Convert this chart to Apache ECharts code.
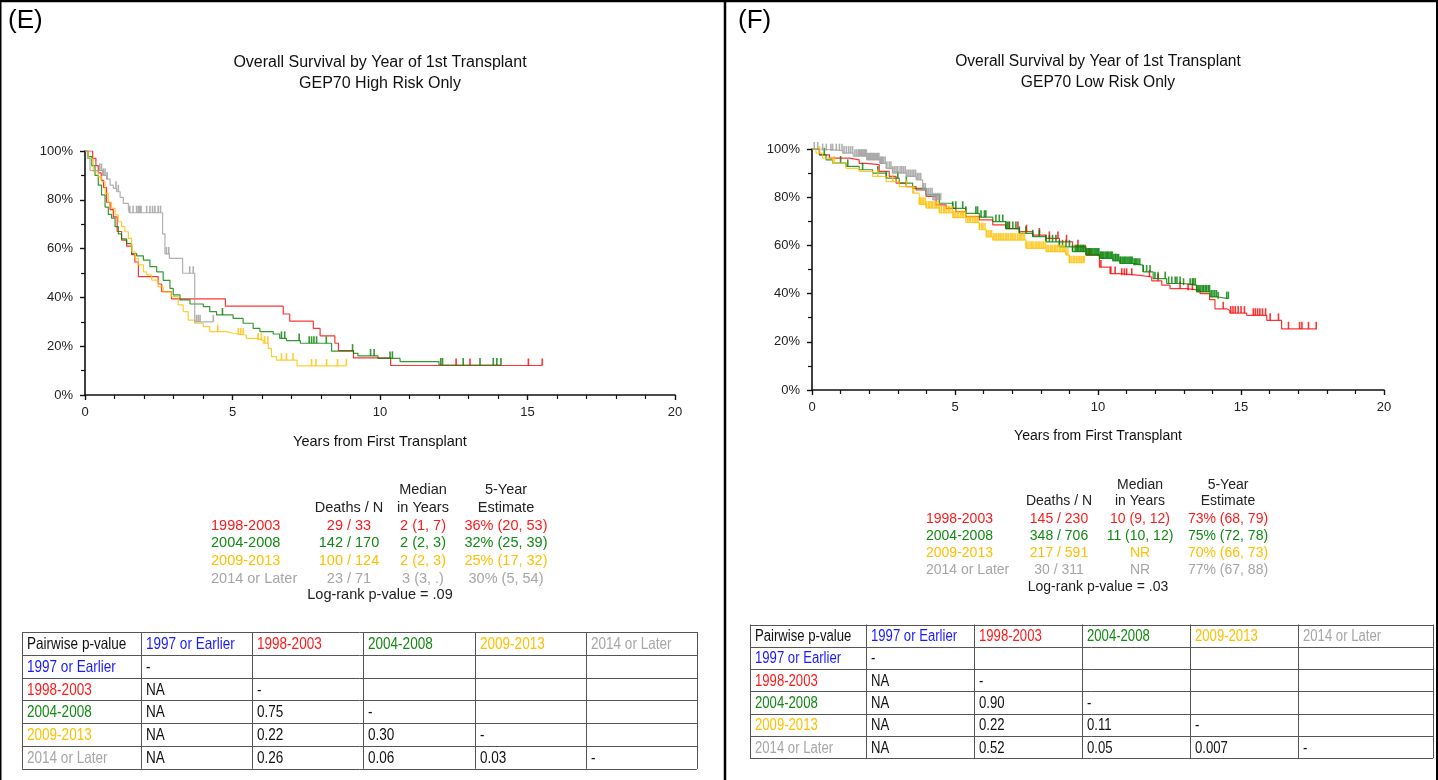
<!DOCTYPE html>
<html>
<head>
<meta charset="utf-8">
<title>Overall Survival by Year of 1st Transplant</title>
<script src="https://cdn.jsdelivr.net/npm/echarts@6.0.0/dist/echarts.min.js"></script>
<style>
  html, body { margin: 0; padding: 0; background: #fff; }
  #chart { width: 1438px; height: 780px; }
</style>
</head>
<body>
<div id="chart"></div>
<script>
// ---- data ----
var groups = ['1998-2003', '2004-2008', '2009-2013', '2014 or Later'];
var pairCols = ['1997 or Earlier', '1998-2003', '2004-2008', '2009-2013', '2014 or Later'];

// (E) GEP70 high risk: [years, survival %]
var kmE1998 = [[0,100],[0.26,97],[0.37,94],[0.45,91],[0.55,88],[0.63,85],[0.73,79],[0.85,76],[0.96,73],[1.09,67],[1.24,63.5],[1.41,61],[1.58,57.5],[1.69,54.5],[1.81,48.5],[2.48,45.5],[2.6,42.4],[2.93,39.4],[4.76,36.4],[6.72,33.2],[6.94,30.3],[7.74,27.3],[7.97,24.2],[8.47,21.2],[8.59,18.2],[9.1,15.2],[10.36,12.1],[15.5,12.1]];
var kmE2004 = [[0,100],[0.11,97.7],[0.23,94],[0.34,90],[0.45,86],[0.56,82],[0.68,77],[0.79,74],[0.9,72.5],[1.02,69],[1.13,66],[1.24,64],[1.41,62],[1.58,58],[1.75,57],[1.98,55.3],[2.2,52.6],[2.43,50.5],[2.65,47],[2.88,43.7],[2.99,41],[3.22,39],[3.56,37.3],[4.01,36.2],[4.23,34.2],[4.46,32.8],[5.02,31.4],[5.36,29.4],[5.7,27.3],[5.93,26],[6.38,25],[6.6,23.2],[6.83,22.3],[7.3,21.2],[8.36,18],[9.1,17.1],[9.25,16],[9.93,15],[10.68,13.7],[12.0,12.3],[14.1,12.3]];
var kmE2009 = [[0,100],[0.11,97],[0.28,91.5],[0.45,89.5],[0.56,87.4],[0.68,82.6],[0.79,79],[0.9,76.5],[1.02,73.8],[1.13,71],[1.24,69],[1.35,66.9],[1.47,64.2],[1.58,58.7],[1.69,56],[1.81,53.3],[1.98,50.5],[2.09,49.2],[2.26,47.1],[2.48,44.4],[2.65,42.3],[2.93,40.3],[3.16,36.9],[3.33,34.2],[3.5,30.7],[3.72,29.4],[4.01,28],[4.23,26],[4.8,25.3],[5.02,24.6],[5.47,23.2],[5.81,22.5],[6.04,21.2],[6.21,19.1],[6.32,15.7],[6.49,14.3],[7.19,11.9],[8.86,11.9]];
var kmE2014 = [[0,100],[0.08,97],[0.17,92],[0.6,90],[0.73,88.5],[0.85,86],[0.96,84.7],[1.07,83.3],[1.19,81],[1.3,78.5],[1.47,76.5],[1.5,74.7],[2.63,66],[2.71,57.8],[2.86,56],[3.31,49.9],[3.72,30],[4.35,30]];
// censored times (years)
var censE1998 = [12.58, 13.05, 15.03, 15.5];
var censE2004 = [4.66, 6.66, 6.77, 7.26, 7.6, 7.68, 7.76, 7.85, 8.18, 9.07, 9.68, 9.8, 10.34, 10.42, 12.06, 12.12, 12.82, 13.39, 13.84, 13.96, 14.1];
var censE2009 = [4.5, 5.2, 5.28, 5.36, 5.87, 5.98, 6.09, 6.2, 6.66, 6.83, 7.05, 7.68, 7.83, 8.19, 8.56, 8.86];
var censE2014 = [0.5, 0.56, 0.62, 0.68, 0.75, 1.05, 1.13, 1.52, 1.63, 1.75, 1.81, 1.86, 1.9, 2.09, 2.2, 2.29, 2.37, 2.48, 2.56, 2.76, 2.84, 3.55, 3.67, 3.78, 3.84, 3.9, 4.35];

// (F) GEP70 low risk
var kmF1998 = [[0,100],[0.26,97.6],[0.61,96.2],[1.31,95.5],[1.65,94],[1.89,93.5],[2.35,90.7],[2.7,88.6],[2.94,85.8],[3.29,84.4],[3.64,83],[3.99,80.3],[4.34,76.8],[4.69,75.4],[5.03,74],[5.38,71.9],[5.85,70.6],[6.32,68.5],[6.78,67],[7.25,65.7],[7.72,64.3],[8.18,62.9],[8.65,61.5],[9.11,59.4],[9.58,56],[10.05,51],[10.42,48.3],[10.77,47.6],[11.47,46.9],[11.88,45.3],[12.23,43.5],[12.52,42.1],[13.1,41.4],[13.57,40],[13.9,37.5],[14.09,33.7],[14.5,33],[14.61,31.9],[15.2,31],[15.9,28.9],[16.42,25.4],[17.65,25.4]];
var kmF2004 = [[0,100],[0.26,97.6],[0.49,95.5],[0.72,94.2],[1.19,92.8],[1.65,91.4],[2.12,90],[2.59,87.9],[3.05,85.8],[3.52,83.7],[3.99,81],[4.45,77.5],[4.92,75.4],[5.38,73.3],[5.85,71.7],[6.32,69.9],[6.78,67],[7.25,65],[7.72,63.6],[8.18,61.5],[8.65,59.4],[9.11,57.4],[9.58,56],[10.05,54.6],[10.51,53.6],[10.77,52.5],[11.23,51.8],[11.58,49],[11.93,46.2],[12.4,44.2],[12.98,43.5],[13.45,40.7],[13.92,38.6],[14.2,37.9],[14.56,37.9]];
var kmF2009 = [[0,100],[0.14,98.3],[0.37,96.2],[0.72,94.2],[1.19,92],[1.65,90.7],[2.12,88.6],[2.59,86.5],[3.05,84.4],[3.52,81.7],[3.75,77],[3.99,75.5],[4.45,73.5],[4.92,71.5],[5.38,69.5],[5.85,66.5],[6.1,63.5],[6.32,62.2],[7.48,58.8],[8.18,57.4],[8.88,56],[9.0,52.8],[9.52,52.8]];
var kmF2014 = [[0,100],[0.35,99.3],[1.07,98.3],[1.44,97],[1.91,95.5],[2.38,94],[2.59,92],[2.82,90],[3.29,88.6],[3.64,87.2],[3.87,83],[3.99,81],[4.22,78.9],[4.5,78.9]];
var censF1998 = [6.9, 7.2, 7.5, 7.95, 8.3, 8.6, 8.9, 9.3, 9.7, 10.1, 10.45, 10.6, 10.83, 10.92, 11.0, 11.18, 11.8, 12.1, 12.87, 13.15, 13.3, 14.38, 14.64, 14.72, 14.8, 14.9, 15.0, 15.12, 15.43, 15.5, 15.58, 15.66, 15.75, 15.86, 16.02, 16.31, 16.66, 17.05, 17.13, 17.36, 17.63];
var censF2004 = [0.43, 1.0, 1.25, 1.77, 2.3, 2.6, 3.0, 3.3, 4.92, 5.03, 5.27, 5.38, 5.73, 5.79, 5.91, 6.03, 6.08, 6.43, 6.55, 6.67, 6.78, 6.84, 6.9, 7.02, 7.13, 7.25, 7.48, 7.72, 7.95, 8.18, 8.3, 8.41, 8.53, 8.65, 8.76, 8.88, 9.0, 9.11, 9.2, 9.25, 9.29, 9.33, 9.38, 9.42, 9.47, 9.5, 9.55, 9.6, 9.64, 9.68, 9.73, 9.77, 9.81, 9.86, 9.9, 9.95, 9.99, 10.03, 10.08, 10.12, 10.16, 10.2, 10.25, 10.3, 10.33, 10.37, 10.42, 10.46, 10.5, 10.55, 10.6, 10.63, 10.68, 10.72, 10.77, 10.8, 10.85, 10.9, 10.94, 10.98, 11.03, 11.08, 11.12, 11.16, 11.2, 11.26, 11.3, 11.35, 11.4, 11.46, 11.58, 11.7, 11.82, 11.99, 12.1, 12.35, 12.47, 12.58, 12.7, 12.76, 12.87, 12.99, 13.22, 13.3, 13.34, 13.4, 13.45, 13.5, 13.55, 13.6, 13.66, 13.7, 13.76, 13.8, 13.86, 13.9, 13.96, 14.02, 14.08, 14.14, 14.2, 14.5, 14.56];
var censF2009 = [0.26, 0.78, 2.3, 2.82, 3.3, 3.55, 3.76, 3.8, 3.85, 3.9, 3.96, 4.0, 4.07, 4.12, 4.18, 4.22, 4.3, 4.35, 4.41, 4.46, 4.52, 4.6, 4.64, 4.7, 4.77, 4.82, 4.9, 4.95, 5.01, 5.08, 5.13, 5.2, 5.26, 5.3, 5.37, 5.44, 5.5, 5.55, 5.62, 5.68, 5.73, 5.8, 5.86, 5.93, 5.98, 6.05, 6.1, 6.16, 6.23, 6.28, 6.35, 6.4, 6.46, 6.53, 6.58, 6.64, 6.7, 6.77, 6.82, 6.88, 6.95, 7.0, 7.06, 7.12, 7.2, 7.26, 7.31, 7.38, 7.43, 7.5, 7.55, 7.62, 7.68, 7.73, 7.8, 7.86, 7.92, 7.97, 8.04, 8.1, 8.16, 8.22, 8.28, 8.35, 8.4, 8.47, 8.52, 8.58, 8.65, 8.7, 8.77, 8.82, 8.88, 8.95, 9.0, 9.06, 9.13, 9.18, 9.24, 9.3, 9.36, 9.42, 9.48, 9.52];
var censF2014 = [0.08, 0.2, 0.37, 0.5, 0.66, 0.72, 0.85, 0.96, 1.05, 1.12, 1.2, 1.28, 1.35, 1.42, 1.5, 1.56, 1.62, 1.66, 1.7, 1.74, 1.78, 1.82, 1.86, 1.9, 1.94, 1.98, 2.02, 2.06, 2.1, 2.14, 2.18, 2.22, 2.26, 2.3, 2.34, 2.38, 2.42, 2.46, 2.5, 2.56, 2.62, 2.7, 2.76, 2.82, 2.88, 2.94, 3.0, 3.08, 3.14, 3.2, 3.26, 3.32, 3.38, 3.44, 3.5, 3.56, 3.62, 3.68, 3.74, 3.8, 3.9, 3.96, 4.02, 4.08, 4.14, 4.2, 4.26, 4.32, 4.38, 4.44, 4.5];

// summary tables
var deathsE = ['29 / 33', '142 / 170', '100 / 124', '23 / 71'];
var medianE = ['2 (1, 7)', '2 (2, 3)', '2 (2, 3)', '3 (3, .)'];
var fiveYearE = ['36% (20, 53)', '32% (25, 39)', '25% (17, 32)', '30% (5, 54)'];
var logRankE = 'Log-rank p-value = .09';
var deathsF = ['145 / 230', '348 / 706', '217 / 591', '30 / 311'];
var medianF = ['10 (9, 12)', '11 (10, 12)', 'NR', 'NR'];
var fiveYearF = ['73% (68, 79)', '75% (72, 78)', '70% (66, 73)', '77% (67, 88)'];
var logRankF = 'Log-rank p-value = .03';

var pairE = [
  ['-', '', '', '', ''],
  ['NA', '-', '', '', ''],
  ['NA', '0.75', '-', '', ''],
  ['NA', '0.22', '0.30', '-', ''],
  ['NA', '0.26', '0.06', '0.03', '-']
];
var pairF = [
  ['-', '', '', '', ''],
  ['NA', '-', '', '', ''],
  ['NA', '0.90', '-', '', ''],
  ['NA', '0.22', '0.11', '-', ''],
  ['NA', '0.52', '0.05', '0.007', '-']
];

// ---- styling ----
var FONT = '"Liberation Sans", Arial, Helvetica, sans-serif';
var lineColors = ['#ff0000', '#008000', '#ffc000', '#9c9c9c'];
var textColors = ['#ff1a1a', '#128a12', '#ffc000', '#a6a6a6'];
var blue = '#1a1aff';

var panels = [
  {
    label: '(E)', labelX: 8, sub: 'GEP70 High Risk Only',
    grid: { left: 85, top: 151, width: 590, height: 244 },
    titleX: 380, titleY: 63, titleSize: 16,
    km: [kmE1998, kmE2004, kmE2009, kmE2014],
    cens: [censE1998, censE2004, censE2009, censE2014],
    stats: { labelX: 211, cols: [349, 423, 506], h1: 490, h2: 507.5, rows: [525.5, 543, 561, 578.5], lrX: 380, lrY: 595, size: 14.5 },
    deaths: deathsE, median: medianE, five: fiveYearE, logRank: logRankE,
    table: { edges: [22, 141, 252, 363, 475, 586, 697], top: 632, rowH: 22.8, size: 16.5 },
    pairs: pairE
  },
  {
    label: '(F)', labelX: 738, sub: 'GEP70 Low Risk Only',
    grid: { left: 812, top: 149, width: 572, height: 241 },
    titleX: 1098, titleY: 62, titleSize: 15.6,
    km: [kmF1998, kmF2004, kmF2009, kmF2014],
    cens: [censF1998, censF2004, censF2009, censF2014],
    stats: { labelX: 926, cols: [1059, 1140, 1228], h1: 485, h2: 501.5, rows: [519, 536, 553.5, 570.5], lrX: 1098, lrY: 587.5, size: 14 },
    deaths: deathsF, median: medianF, five: fiveYearF, logRank: logRankF,
    table: { edges: [750, 866, 974, 1082, 1190, 1298, 1433], top: 624.5, rowH: 22.3, size: 16 },
    pairs: pairF
  }
];

function levelAt(curve, t) {
  var s = curve[0][1];
  for (var i = 0; i < curve.length; i++) {
    if (curve[i][0] <= t) s = curve[i][1]; else break;
  }
  return s;
}

function txt(x, y, s, color, size, align, sx) {
  return {
    type: 'text', x: x, y: y, scaleX: sx || 1, silent: true,
    style: {
      text: s, fill: color, fontSize: size, fontFamily: FONT,
      align: align || 'left', verticalAlign: 'middle',
      textAlign: align || 'left', textVerticalAlign: 'middle'
    }
  };
}
function ln(x1, y1, x2, y2, color, w) {
  return { type: 'line', silent: true, shape: { x1: x1, y1: y1, x2: x2, y2: y2 }, style: { stroke: color, lineWidth: w } };
}

var grids = [], xAxes = [], yAxes = [], series = [], graphics = [];

// page frame
graphics.push(ln(0, 1, 1438, 1, '#000', 2.5));
graphics.push(ln(0.5, 0, 0.5, 780, '#000', 2));
graphics.push(ln(1437, 0, 1437, 780, '#000', 2));
graphics.push(ln(725, 0, 725, 780, '#000', 2.5));

panels.forEach(function (p, i) {
  grids.push({ left: p.grid.left, top: p.grid.top, width: p.grid.width, height: p.grid.height, outerBoundsMode: 'none', containLabel: false });
  xAxes.push({
    gridIndex: i, type: 'value', min: 0, max: 20, interval: 5,
    name: 'Years from First Transplant', nameLocation: 'middle', nameGap: 39,
    nameTextStyle: { color: '#111', fontSize: p.stats.size, fontFamily: FONT },
    axisLine: { show: true, onZero: false, lineStyle: { color: '#111', width: 1.6 } },
    axisTick: { show: true, length: 5, lineStyle: { color: '#111', width: 1.4 } },
    minorTick: { show: true, splitNumber: 5, length: 4, lineStyle: { color: '#111', width: 1.2 } },
    splitLine: { show: false }, minorSplitLine: { show: false },
    axisLabel: { color: '#222', fontSize: 13, fontFamily: FONT, margin: 11 }
  });
  yAxes.push({
    gridIndex: i, type: 'value', min: 0, max: 100, interval: 20,
    axisLine: { show: true, onZero: false, lineStyle: { color: '#111', width: 1.6 } },
    axisTick: { show: true, length: 5, lineStyle: { color: '#111', width: 1.4 } },
    minorTick: { show: true, splitNumber: 2, length: 4, lineStyle: { color: '#111', width: 1.2 } },
    splitLine: { show: false }, minorSplitLine: { show: false },
    axisLabel: { color: '#222', fontSize: 13, fontFamily: FONT, margin: 12, formatter: '{value}%' }
  });

  p.km.forEach(function (curve, g) {
    series.push({
      type: 'line', name: groups[g], xAxisIndex: i, yAxisIndex: i,
      step: 'end', data: curve, showSymbol: false, symbol: 'none',
      lineStyle: { color: lineColors[g], width: 1.2, opacity: 0.8 },
      silent: true, animation: false, z: 2 + g
    });
    series.push({
      type: 'scatter', name: groups[g] + ' censored', xAxisIndex: i, yAxisIndex: i,
      data: p.cens[g].map(function (t) { return [t, levelAt(curve, t)]; }),
      symbol: 'rect', symbolSize: [1.6, 7], symbolOffset: [0, -3.5],
      itemStyle: { color: lineColors[g] },
      silent: true, animation: false, z: 2 + g
    });
  });

  // panel letter and title
  graphics.push(txt(p.labelX, 21, p.label, '#000', 26));
  graphics.push(txt(p.titleX, p.titleY, 'Overall Survival by Year of 1st Transplant', '#111', p.titleSize, 'center'));
  graphics.push(txt(p.titleX, p.titleY + 21, p.sub, '#111', p.titleSize, 'center'));

  // summary block
  var s = p.stats, c = s.cols;
  graphics.push(txt(c[1], s.h1, 'Median', '#222', s.size, 'center'));
  graphics.push(txt(c[2], s.h1, '5-Year', '#222', s.size, 'center'));
  graphics.push(txt(c[0], s.h2, 'Deaths / N', '#222', s.size, 'center'));
  graphics.push(txt(c[1], s.h2, 'in Years', '#222', s.size, 'center'));
  graphics.push(txt(c[2], s.h2, 'Estimate', '#222', s.size, 'center'));
  groups.forEach(function (g, k) {
    var y = s.rows[k], col = textColors[k];
    graphics.push(txt(s.labelX, y, g, col, s.size));
    graphics.push(txt(c[0], y, p.deaths[k], col, s.size, 'center'));
    graphics.push(txt(c[1], y, p.median[k], col, s.size, 'center'));
    graphics.push(txt(c[2], y, p.five[k], col, s.size, 'center'));
  });
  graphics.push(txt(s.lrX, s.lrY, p.logRank, '#222', s.size, 'center'));

  // pairwise table
  var tb = p.table, e = tb.edges, nRows = 6;
  var bottom = tb.top + tb.rowH * nRows;
  for (var r = 0; r <= nRows; r++) {
    var yy = Math.round(tb.top + tb.rowH * r) + 0.5;
    graphics.push(ln(e[0], yy, e[e.length - 1], yy, '#555', 1));
  }
  e.forEach(function (x) {
    graphics.push(ln(x + 0.5, tb.top, x + 0.5, bottom, '#555', 1));
  });
  var headColors = ['#111', blue].concat(textColors);
  var rowColors = [blue].concat(textColors);
  var header = ['Pairwise p-value'].concat(pairCols);
  header.forEach(function (h, k) {
    graphics.push(txt(e[k] + 5, tb.top + tb.rowH / 2 + 1, h, headColors[k], tb.size, 'left', 0.82));
  });
  p.pairs.forEach(function (row, r) {
    var yy = tb.top + tb.rowH * (r + 1.5) + 1;
    graphics.push(txt(e[0] + 5, yy, pairCols[r], rowColors[r], tb.size, 'left', 0.82));
    row.forEach(function (v, k) {
      if (v) graphics.push(txt(e[k + 1] + 5, yy, v, '#111', tb.size, 'left', 0.82));
    });
  });
});

var chart = echarts.init(document.getElementById('chart'), null, { renderer: 'canvas' });
chart.setOption({
  backgroundColor: '#fff',
  animation: false,
  grid: grids,
  xAxis: xAxes,
  yAxis: yAxes,
  series: series,
  graphic: graphics
});
</script>
</body>
</html>
